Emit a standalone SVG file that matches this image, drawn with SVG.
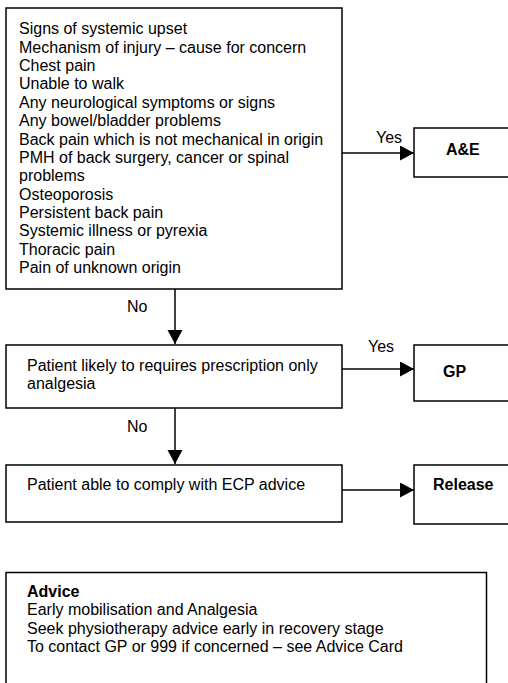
<svg xmlns="http://www.w3.org/2000/svg" width="508" height="683" viewBox="0 0 508 683">
  <style>
    .box { fill: #ffffff; stroke: #000000; stroke-width: 1.5; }
    .txt { font-family: "Liberation Sans", Arial, sans-serif; font-size: 16px; fill: #000000; }
    .bold { font-weight: bold; }
    .conn { stroke: #000000; stroke-width: 1.5; fill: none; marker-end: url(#arrow); }
  </style>
  <defs>
    <marker id="arrow" markerUnits="userSpaceOnUse" markerWidth="15" markerHeight="16" refX="14" refY="7.5" orient="auto">
      <path d="M0,0 L14,7.5 L0,15 z" fill="#000000"/>
    </marker>
  </defs>
  <rect width="508" height="683" fill="#ffffff"/>

  <!-- red flag criteria -->
  <g id="criteria">
    <rect class="box" x="6" y="8" width="336" height="281"/>
    <text class="txt" x="19" y="34.3">
      <tspan x="19" dy="0">Signs of systemic upset</tspan>
      <tspan x="19" dy="18.38">Mechanism of injury – cause for concern</tspan>
      <tspan x="19" dy="18.38">Chest pain</tspan>
      <tspan x="19" dy="18.38">Unable to walk</tspan>
      <tspan x="19" dy="18.38">Any neurological symptoms or signs</tspan>
      <tspan x="19" dy="18.38">Any bowel/bladder problems</tspan>
      <tspan x="19" dy="18.38">Back pain which is not mechanical in origin</tspan>
      <tspan x="19" dy="18.38">PMH of back surgery, cancer or spinal</tspan>
      <tspan x="19" dy="18.38">problems</tspan>
      <tspan x="19" dy="18.38">Osteoporosis</tspan>
      <tspan x="19" dy="18.38">Persistent back pain</tspan>
      <tspan x="19" dy="18.38">Systemic illness or pyrexia</tspan>
      <tspan x="19" dy="18.38">Thoracic pain</tspan>
      <tspan x="19" dy="18.38">Pain of unknown origin</tspan>
    </text>
  </g>

  <g id="ae">
    <rect class="box" x="414" y="128" width="120" height="49"/>
    <text class="txt bold" x="446" y="154.5">A&amp;E</text>
  </g>

  <g id="prescription">
    <rect class="box" x="6" y="345" width="336" height="63"/>
    <text class="txt" x="27" y="371">Patient likely to requires prescription only</text>
    <text class="txt" x="27" y="389.4">analgesia</text>
  </g>

  <g id="gp">
    <rect class="box" x="414" y="345" width="120" height="56"/>
    <text class="txt bold" x="443" y="377">GP</text>
  </g>

  <g id="comply">
    <rect class="box" x="6" y="465" width="336" height="57"/>
    <text class="txt" x="27" y="490">Patient able to comply with ECP advice</text>
  </g>

  <g id="release">
    <rect class="box" x="414" y="465" width="120" height="59"/>
    <text class="txt bold" x="433" y="490">Release</text>
  </g>

  <g id="advice">
    <rect class="box" x="6" y="572.5" width="480.5" height="160"/>
    <text class="txt bold" x="27" y="597">Advice</text>
    <text class="txt" x="27" y="615.4">Early mobilisation and Analgesia</text>
    <text class="txt" x="27" y="633.8">Seek physiotherapy advice early in recovery stage</text>
    <text class="txt" x="27" y="652.2">To contact GP or 999 if concerned – see Advice Card</text>
  </g>

  <!-- connectors and their labels -->
  <g id="connectors">
    <line class="conn" x1="342" y1="153" x2="414" y2="153"/>
    <text class="txt" x="376" y="143">Yes</text>
    <line class="conn" x1="175" y1="289" x2="175" y2="344"/>
    <text class="txt" x="127" y="312">No</text>
    <line class="conn" x1="342" y1="369" x2="414" y2="369"/>
    <text class="txt" x="368" y="352">Yes</text>
    <line class="conn" x1="175" y1="408" x2="175" y2="464"/>
    <text class="txt" x="127" y="432">No</text>
    <line class="conn" x1="342" y1="490" x2="414" y2="490"/>
  </g>
</svg>
